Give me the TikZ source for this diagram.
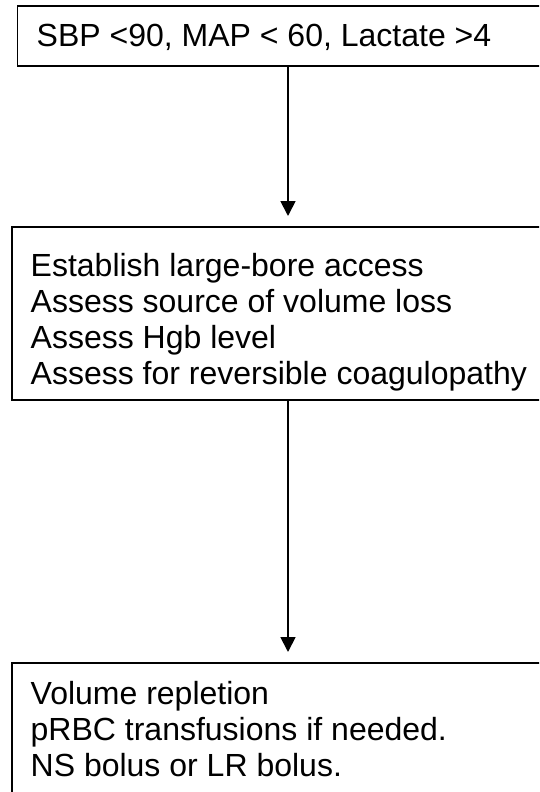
\documentclass[tikz,border=0pt]{standalone}
\usepackage{fontspec}
\setmainfont{Liberation Sans}
\usetikzlibrary{arrows.meta}
\begin{document}
\begin{tikzpicture}[x=1pt,y=-1pt,
  box/.style={draw=black, line width=1.8pt, rectangle, anchor=north west, inner sep=0pt},
  txt/.style={anchor=base west, inner sep=0pt, font=\fontsize{32pt}{36pt}\selectfont},
  arr/.style={line width=1.8pt, -{Triangle[length=15pt,width=15pt]}, shorten >=10pt}]
  % page frame; the boxes run past the right edge and the last one past the bottom
  \clip (0,0) rectangle (539,792);
  \fill[white] (0,0) rectangle (539,792);

  % boxes
  \node[box, minimum width=600pt, minimum height=60pt]  (b1) at (16.5,5) {};
  \node[box, minimum width=600pt, minimum height=173pt] (b2) at (11,226) {};
  \node[box, minimum width=600pt, minimum height=220pt] (b3) at (11,662) {};

  % texts
  \node[txt] (s1) at (36.5,46.5) {SBP <90, MAP < 60, Lactate >4};

  \node[txt] (e1) at (30.5,276) {Establish large-bore access};
  \node[txt] (e2) at (30.5,312) {Assess source of volume loss};
  \node[txt] (e3) at (30.5,348) {Assess Hgb level};
  \node[txt] (e4) at (30.5,384) {Assess for reversible coagulopathy};

  \node[txt] (v1) at (30.5,704) {Volume repletion};
  \node[txt] (v2) at (30.5,740) {pRBC transfusions if needed.};
  \node[txt] (v3) at (30.5,776) {NS bolus or LR bolus.};

  % connectors
  \coordinate (ax) at (288,0);
  \draw[arr] (b1.south -| ax) -- (b2.north -| ax);
  \draw[arr] (b2.south -| ax) -- (b3.north -| ax);
\end{tikzpicture}
\end{document}
